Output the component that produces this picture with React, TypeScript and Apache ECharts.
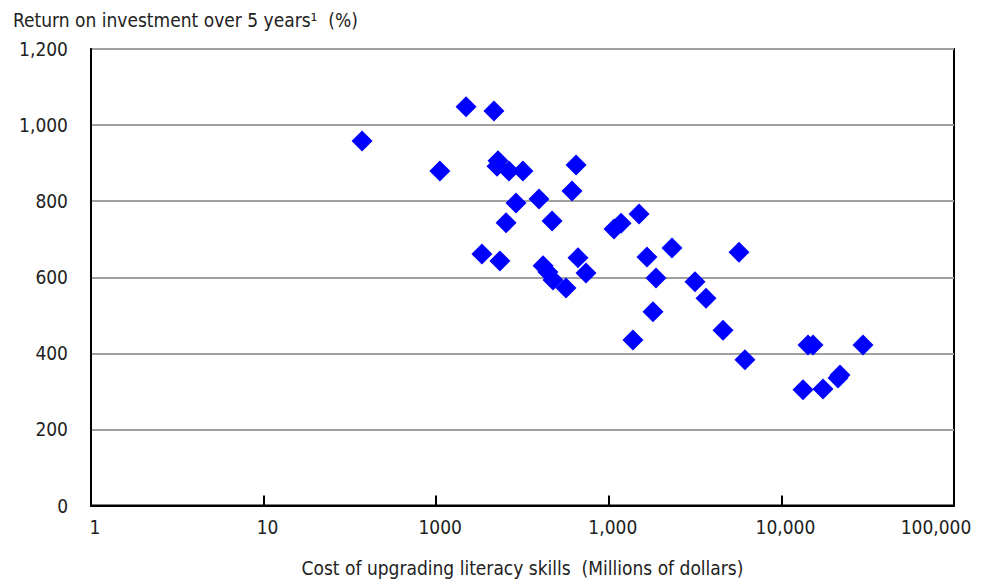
import React, { useEffect, useRef } from "react";
import * as echarts from "echarts";

const costMillions = [
  37.2, 149, 216, 105, 228, 225, 264, 318, 290, 646, 612, 394, 254, 469, 1072, 1178, 1497,
  184, 234, 416, 444, 475, 565, 663, 738, 1664, 2323, 5680, 1877, 3157, 3656, 1804, 1380,
  4590, 6150, 14260, 15240, 29700, 13340, 17420, 21280, 21850,
];
const returnPct = [
  958, 1048, 1037, 879, 906, 892, 879, 879, 795, 895, 827, 806, 743, 748, 727, 742, 766,
  661, 643, 630, 614, 593, 572, 651, 611, 653, 677, 666, 598, 588, 545, 509, 435,
  461, 383, 422, 422, 422, 304, 306, 335, 343,
];
const xTickLabels: Record<string, string> = {
  "1": "1",
  "10": "10",
  "100": "1000",
  "1000": "1,000",
  "10000": "10,000",
  "100000": "100,000",
};
const yTickLabels: Record<string, string> = {
  "0": "0",
  "200": "200",
  "400": "400",
  "600": "600",
  "800": "800",
  "1000": "1,000",
  "1200": "1,200",
};
const titleText = "Return on investment over 5 years\u00b9  (%)";
const xAxisTitle = "Cost of upgrading literacy skills  (Millions of dollars)";

const FONT = "'DejaVu Sans Condensed', 'DejaVu Sans', sans-serif";
const TEXT_COLOR = "#222";

export default function App() {
  const ref = useRef<HTMLDivElement>(null);
  useEffect(() => {
    if (!ref.current) return;
    const chart = echarts.init(ref.current, null, { renderer: "svg" });
    const points = costMillions.map((c, i) => [c, returnPct[i]]);
    const labelStyle = { fontFamily: FONT, fontSize: 19, color: TEXT_COLOR };
    chart.setOption({
      animation: false,
      backgroundColor: "#ffffff",
      textStyle: { fontFamily: FONT },
      title: {
        text: titleText,
        left: 8,
        top: 5,
        textStyle: { ...labelStyle, fontWeight: "normal" },
      },
      grid: {
        left: 91,
        right: 29,
        top: 49,
        bottom: 74.5,
        show: true,
        borderColor: "#000",
        borderWidth: 2,
        backgroundColor: "transparent",
        outerBoundsMode: "none",
        containLabel: false,
      },
      xAxis: {
        type: "log",
        logBase: 10,
        min: 1,
        max: 100000,
        name: xAxisTitle,
        nameLocation: "middle",
        nameGap: 53,
        nameTextStyle: labelStyle,
        axisLine: { show: true, lineStyle: { color: "#000", width: 2 } },
        axisTick: { show: true, inside: true, length: 10, lineStyle: { color: "#000", width: 2 } },
        minorTick: { show: false },
        splitLine: { show: false },
        axisLabel: {
          margin: 12,
          ...labelStyle,
          formatter: (v: number) => {
            const key = String(Math.round(v));
            const t = xTickLabels[key] ?? String(v);
            return key === "100000" ? `{e|${t}}` : `{n|${t}}`;
          },
          rich: {
            n: { ...labelStyle, padding: [0, 0, 0, 8] },
            e: { ...labelStyle, padding: [0, 36, 0, 0] },
          },
        },
      },
      yAxis: {
        type: "value",
        min: 0,
        max: 1200,
        interval: 200,
        axisLine: { show: true, lineStyle: { color: "#000", width: 2 } },
        axisTick: { show: false },
        splitLine: { show: true, lineStyle: { color: "#a0a0a0", width: 2 } },
        axisLabel: {
          margin: 23,
          ...labelStyle,
          formatter: (v: number) => yTickLabels[String(v)] ?? String(v),
        },
      },
      series: [
        {
          type: "scatter",
          data: points,
          symbol: "diamond",
          symbolSize: 21,
          itemStyle: { color: "#0000ff", opacity: 1 },
        },
      ],
    });
    return () => chart.dispose();
  }, []);
  return (
    <div
      ref={ref}
      style={{ position: "absolute", left: 0, top: 0, width: 983, height: 580 }}
    />
  );
}
